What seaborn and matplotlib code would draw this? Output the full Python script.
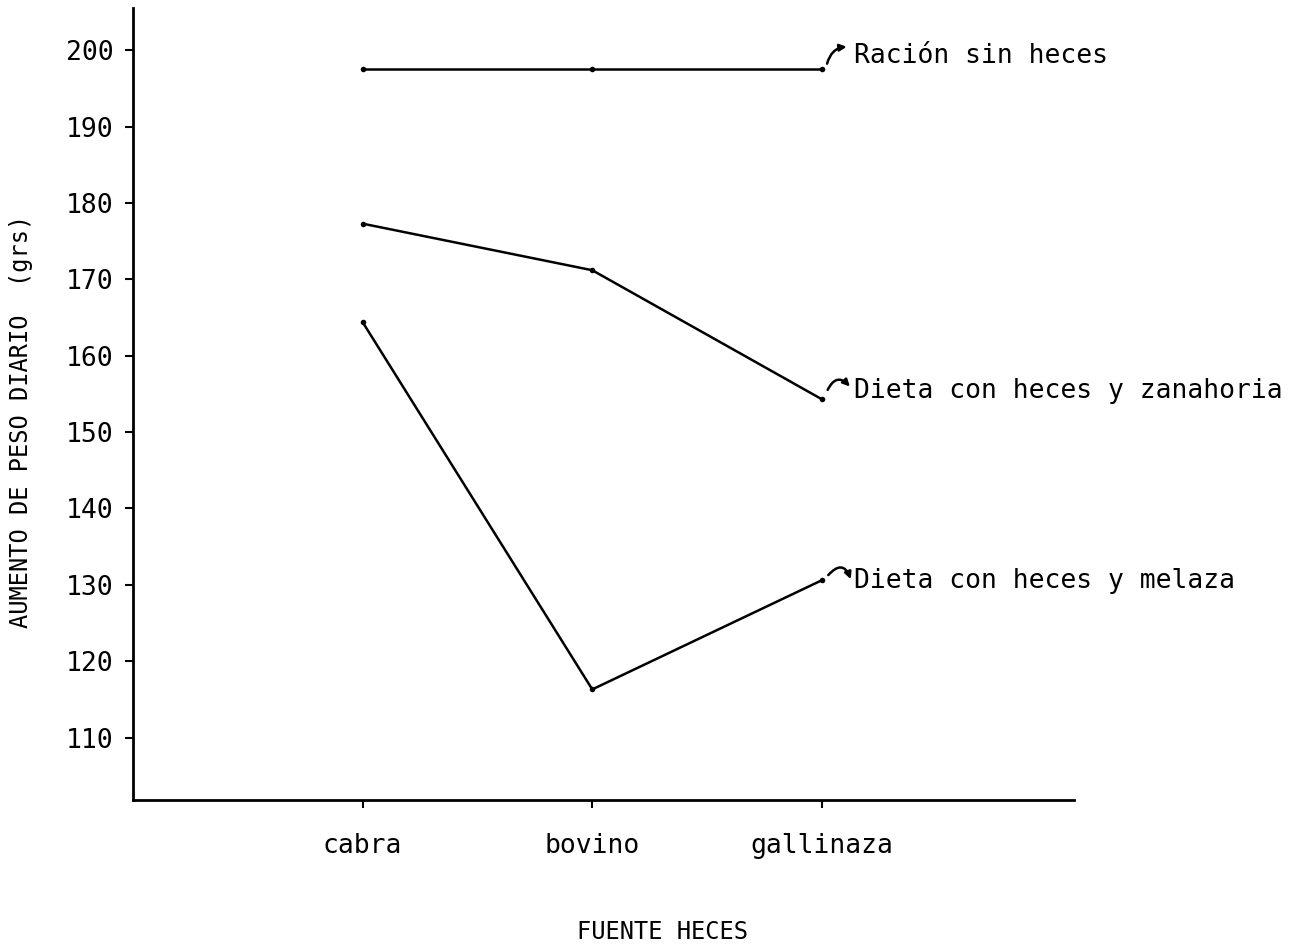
import pandas as pd
import matplotlib
matplotlib.use("Agg")
import matplotlib.pyplot as plt
import seaborn as sns

# Data
fuentes = ["cabra", "bovino", "gallinaza"]
sin_heces = [197.5, 197.5, 197.5]
zanahoria = [177.3, 171.2, 154.3]
melaza = [164.4, 116.3, 130.6]

series_names = ["Ración sin heces", "Dieta con heces y zanahoria", "Dieta con heces y melaza"]
y_ticks = [110, 120, 130, 140, 150, 160, 170, 180, 190, 200]

rows = []
for name, vals in zip(series_names, [sin_heces, zanahoria, melaza]):
    for i, v in enumerate(vals):
        rows.append({"fuente": i, "serie": name, "valor": v})
df = pd.DataFrame(rows)

sns.set_style("ticks")
plt.rcParams['font.family'] = ['DejaVu Sans Mono', 'DejaVu Sans']
plt.rcParams['text.color'] = 'black'
plt.rcParams['xtick.color'] = 'black'
plt.rcParams['ytick.color'] = 'black'

fig = plt.figure(figsize=(13.04, 9.48), dpi=100)
ax = fig.add_axes([0.102, 0.156, 0.722, 0.836])

sns.lineplot(data=df, x="fuente", y="valor", hue="serie", palette=["black"] * 3,
             marker="o", markersize=4, markeredgewidth=0, linewidth=1.8,
             legend=False, ax=ax)

ax.set_xlim(-1.0, 3.1)
ax.set_ylim(101.8, 205.6)
ax.set_xticks(range(len(fuentes)))
ax.set_xticklabels(fuentes, fontsize=19)
ax.set_yticks(y_ticks)
ax.set_yticklabels([str(t) for t in y_ticks], fontsize=19)
ax.tick_params(axis="both", direction="out", length=6, width=1.5, color="black", pad=8)
ax.tick_params(axis="x", pad=18)

sns.despine(ax=ax)
for side in ["left", "bottom"]:
    ax.spines[side].set_linewidth(2)
    ax.spines[side].set_color("black")

ax.set_xlabel("")
ax.set_ylabel("")
fig.text(0.508, 0.004, "FUENTE HECES", fontsize=17, ha="center", va="bottom")
fig.text(0.016, 0.555, "AUMENTO DE PESO DIARIO  (grs)", fontsize=17,
         rotation=90, ha="center", va="center")

# series labels with small curved arrows
label_x = 2.14
ax.text(label_x, 199.3, "Ración sin heces", fontsize=19, va="center", ha="left")
ax.text(label_x, 155.4, "Dieta con heces y zanahoria", fontsize=19, va="center", ha="left")
ax.text(label_x, 130.5, "Dieta con heces y melaza", fontsize=19, va="center", ha="left")

arrow = dict(arrowstyle="-|>", color="black", lw=1.8, mutation_scale=10)
ax.annotate("", xy=(2.12, 200.5), xytext=(2.02, 197.9),
            arrowprops=dict(arrow, connectionstyle="arc3,rad=-0.4"))
ax.annotate("", xy=(2.13, 155.7), xytext=(2.02, 155.2),
            arrowprops=dict(arrow, connectionstyle="arc3,rad=-0.8"))
ax.annotate("", xy=(2.13, 130.4), xytext=(2.02, 131.0),
            arrowprops=dict(arrow, connectionstyle="arc3,rad=-0.9"))

fig.savefig("out.png", dpi=100)
